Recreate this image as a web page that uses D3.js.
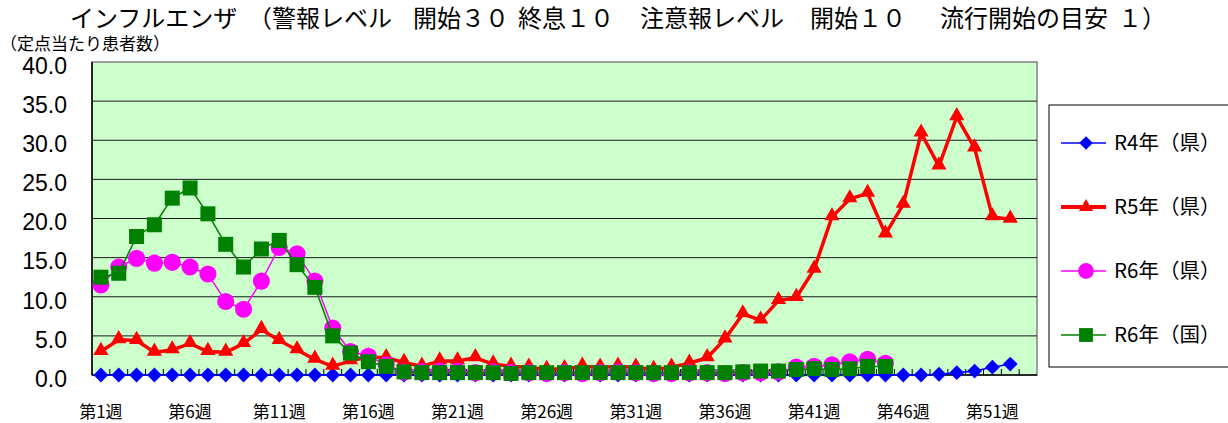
<!DOCTYPE html>
<html>
<head>
<meta charset="utf-8">
<script src="https://cdn.jsdelivr.net/npm/d3@7"></script>
<style>
  html, body { margin: 0; padding: 0; background: #fff; }
  svg { display: block; }
  text { font-family: "Noto Sans CJK JP", "Liberation Sans", sans-serif; fill: #000; }
</style>
</head>
<body>
<div id="chart"></div>
<script>
// ========== Data ==========
const weeks = d3.range(1, 54);               // 第1週 .. 第53週
const weekLabels = [1, 6, 11, 16, 21, 26, 31, 36, 41, 46, 51];
const yTicks = [0, 5, 10, 15, 20, 25, 30, 35, 40];

const r4Pref = [0, 0, 0, 0, 0, 0, 0, 0, 0, 0,
  0, 0, 0, 0, 0, 0, 0, 0, 0, 0,
  0, 0, 0, 0, 0, 0, 0, 0, 0, 0,
  0, 0, 0, 0, 0, 0, 0, 0, 0, 0,
  0, 0, 0, 0, 0, 0, 0, 0.1, 0.3, 0.5,
  1.0, 1.4];

const r5Pref = [3.0, 4.5, 4.4, 2.9, 3.2, 4.0, 3.0, 2.9, 4.0, 5.8,
  4.4, 3.2, 2.0, 1.1, 1.8, 2.3, 2.2, 1.6, 1.1, 1.8,
  1.8, 2.2, 1.4, 1.1, 1.0, 0.7, 0.8, 1.1, 1.0, 1.1,
  1.0, 0.7, 1.0, 1.5, 2.2, 4.6, 7.8, 7.0, 9.5, 9.9,
  13.5, 20.2, 22.5, 23.2, 18.0, 21.8, 30.9, 26.7, 33.0, 29.0,
  20.2, 19.9];

const r6Pref = [11.5, 13.8, 14.9, 14.3, 14.4, 13.8, 12.9, 9.4, 8.4, 12.0,
  16.3, 15.5, 12.0, 6.0, 3.0, 2.4, 1.3, 0.4, 0.4, 0.5,
  0.5, 0.3, 0.4, 0.3, 0.3, 0.2, 0.3, 0.2, 0.3, 0.4,
  0.3, 0.2, 0.2, 0.3, 0.3, 0.2, 0.3, 0.3, 0.4, 1.0,
  1.1, 1.3, 1.7, 2.0, 1.5];

const r6Nat = [12.5, 13.0, 17.7, 19.2, 22.6, 23.9, 20.6, 16.7, 13.8, 16.1,
  17.2, 14.1, 11.2, 5.0, 2.8, 1.7, 1.1, 0.4, 0.3, 0.3,
  0.3, 0.3, 0.3, 0.2, 0.3, 0.3, 0.3, 0.3, 0.3, 0.3,
  0.3, 0.3, 0.3, 0.3, 0.3, 0.3, 0.4, 0.5, 0.5, 0.7,
  0.8, 0.7, 0.8, 1.1, 1.1];

const seriesNames = ["R4年（県）", "R5年（県）", "R6年（県）", "R6年（国）"];

// title pieces, laid out with wide gaps like the original
const titleParts = ["インフルエンザ", "（警報レベル", "開始３０", "終息１０",
  "注意報レベル", "開始１０", "流行開始の目安", "１）"];
const titleX = [70, 248, 413, 518, 640, 810, 940, 1118];

// ========== Layout ==========
const W = 1228, H = 423;
const plot = { left: 92, right: 1037, top: 62, bottom: 375 };

const svg = d3.select("#chart").append("svg")
  .attr("width", W)
  .attr("height", H);

const x = d3.scaleBand()
  .domain(weeks)
  .range([plot.left, plot.right])
  .paddingInner(0)
  .paddingOuter(0);

const y = d3.scaleLinear()
  .domain([0, 40])
  .range([plot.bottom, plot.top]);

const cx = w => x(w) + x.bandwidth() / 2;

// series styles
const series = [
  { name: seriesNames[0], values: r4Pref, color: "#0000ff", width: 1.5, symbol: d3.symbolDiamond2, size: 140 },
  { name: seriesNames[1], values: r5Pref, color: "#ff0000", width: 3.5, symbol: d3.symbolTriangle, size: 100 },
  { name: seriesNames[2], values: r6Pref, color: "#ff00ff", width: 1.5, symbol: d3.symbolCircle, size: 230 },
  { name: seriesNames[3], values: r6Nat, color: "#008000", width: 1.5, symbol: d3.symbolSquare, size: 225 }
];

// ========== Plot background & grid ==========
svg.append("rect")
  .attr("x", plot.left)
  .attr("y", plot.top)
  .attr("width", plot.right - plot.left)
  .attr("height", plot.bottom - plot.top)
  .attr("fill", "#ccffcc")
  .attr("stroke", "#808080")
  .attr("stroke-width", 1.5);

svg.append("g")
  .selectAll("line")
  .data(yTicks.filter(d => d > 0 && d < 40))
  .enter()
  .append("line")
  .attr("x1", plot.left)
  .attr("x2", plot.right)
  .attr("y1", d => y(d))
  .attr("y2", d => y(d))
  .attr("stroke", "#1a1a1a")
  .attr("stroke-width", 1);

// left axis line
svg.append("line")
  .attr("x1", plot.left).attr("x2", plot.left)
  .attr("y1", plot.top).attr("y2", plot.bottom)
  .attr("stroke", "#000").attr("stroke-width", 1.5);

// bottom axis with inside ticks at category boundaries
svg.append("line")
  .attr("x1", plot.left).attr("x2", plot.right)
  .attr("y1", plot.bottom).attr("y2", plot.bottom)
  .attr("stroke", "#000").attr("stroke-width", 1.5);

svg.append("g")
  .selectAll("line")
  .data(weeks.slice(1))
  .enter()
  .append("line")
  .attr("x1", d => x(d)).attr("x2", d => x(d))
  .attr("y1", plot.bottom).attr("y2", plot.bottom - 6)
  .attr("stroke", "#000").attr("stroke-width", 1);

// y tick labels
svg.append("g")
  .selectAll("text")
  .data(yTicks)
  .enter()
  .append("text")
  .attr("x", 67)
  .attr("y", d => y(d) + 3.5)
  .attr("dy", "0.36em")
  .attr("text-anchor", "end")
  .style("font-family", "'Liberation Sans', Arial, sans-serif")
  .style("font-size", "23px")
  .text(d => d.toFixed(1));

// x tick labels
svg.append("g")
  .selectAll("text")
  .data(weekLabels)
  .enter()
  .append("text")
  .attr("x", d => cx(d))
  .attr("y", 418)
  .attr("text-anchor", "middle")
  .style("font-size", "17px")
  .text(d => "第" + d + "週");

// ========== Series ==========
const line = d3.line()
  .x((d, i) => cx(weeks[i]))
  .y(d => y(d));

series.forEach(s => {
  const g = svg.append("g");
  g.append("path")
    .datum(s.values)
    .attr("d", line)
    .attr("fill", "none")
    .attr("stroke", s.color)
    .attr("stroke-width", s.width)
    .attr("stroke-linejoin", "round");

  const sym = d3.symbol().type(s.symbol).size(s.size);
  g.selectAll("path.mark")
    .data(s.values)
    .enter()
    .append("path")
    .attr("class", "mark")
    .attr("d", sym)
    .attr("transform", (d, i) => {
      const yy = s.symbol === d3.symbolTriangle ? y(d) - 1 : y(d);
      return `translate(${cx(weeks[i])},${yy})`;
    })
    .attr("fill", s.color);
});

// ========== Titles ==========
svg.append("text")
  .attr("y", 27)
  .style("font-size", "24px")
  .selectAll("tspan")
  .data(titleParts)
  .enter()
  .append("tspan")
  .attr("x", (d, i) => titleX[i])
  .text(d => d);

svg.append("text")
  .attr("x", 0)
  .attr("y", 50)
  .style("font-size", "17px")
  .text("（定点当たり患者数）");

// ========== Legend ==========
const legend = svg.append("g");
legend.append("rect")
  .attr("x", 1049)
  .attr("y", 105)
  .attr("width", 200)
  .attr("height", 262)
  .attr("fill", "#fff")
  .attr("stroke", "#000")
  .attr("stroke-width", 1);

const legendY = d3.scalePoint()
  .domain(seriesNames)
  .range([143, 335]);

const items = legend.selectAll("g.item")
  .data(series)
  .enter()
  .append("g")
  .attr("class", "item")
  .attr("transform", d => `translate(0,${legendY(d.name)})`);

items.append("line")
  .attr("x1", 1061).attr("x2", 1106)
  .attr("y1", 0).attr("y2", 0)
  .attr("stroke", d => d.color)
  .attr("stroke-width", d => d.width === 3.5 ? 4 : 1.5);

items.append("path")
  .attr("d", d => d3.symbol().type(d.symbol).size(d.size * 0.85)())
  .attr("transform", "translate(1086,0)")
  .attr("fill", d => d.color);

items.append("text")
  .attr("x", 1114)
  .attr("y", 0)
  .attr("dy", "0.36em")
  .style("font-size", "20.5px")
  .text(d => d.name);
</script>
</body>
</html>
